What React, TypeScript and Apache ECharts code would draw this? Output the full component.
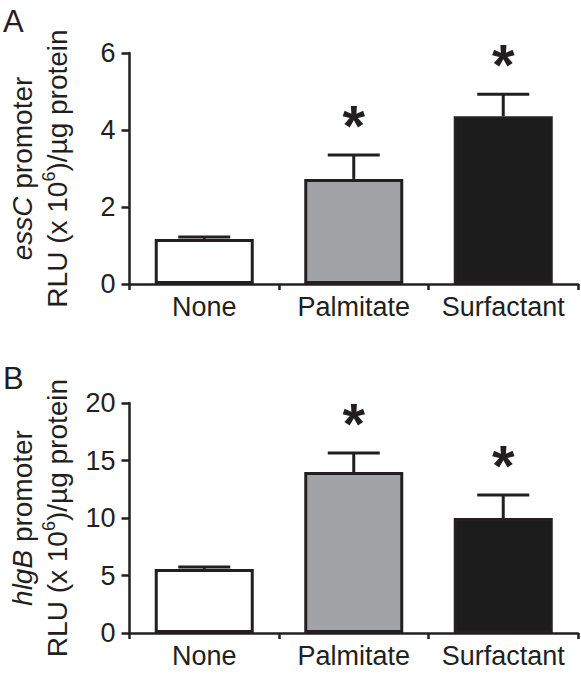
import React, { useEffect, useRef } from "react";
import * as echarts from "echarts";

const categories = ["None", "Palmitate", "Surfactant"];
const essCMean = [1.17, 2.73, 4.36];
const essCErr = [0.05, 0.62, 0.57];
const hlgBMean = [5.57, 14.0, 10.0];
const hlgBErr = [0.17, 1.65, 2.0];
const significant = [0, 1, 1];
const barColors = ["#ffffff", "#a2a3a7", "#1c1c1c"];
const essCTicks = { min: 0, max: 6, interval: 2 };
const hlgBTicks = { min: 0, max: 20, interval: 5 };

const INK = "#231f20";
const FONT = "Liberation Sans";

export default function App() {
  const ref = useRef<HTMLDivElement>(null);
  useEffect(() => {
    document.body.style.margin = "0";
    const chart = echarts.init(ref.current!, undefined, { renderer: "svg" });

    const grids = [
      { left: 127, top: 53, right: 3, height: 231 },
      { left: 128, top: 403, right: 3, height: 230 },
    ];

    const xAxis = grids.map((_, i) => ({
      type: "category",
      gridIndex: i,
      data: categories,
      axisLine: { lineStyle: { color: INK, width: 2.5 } },
      axisTick: { show: true, length: 6, alignWithLabel: false, lineStyle: { color: INK, width: 2.5 } },
      axisLabel: { color: INK, fontFamily: FONT, fontSize: 27, margin: 9, interval: 0, hideOverlap: false },
    }));

    const yName = (gene: string) => ({
      name: `{it|${gene}}{n| promoter}\n{n|RLU (x 10}{sup|6}{n|)/µg protein}`,
      nameLocation: "middle",
      nameRotate: 90,
      nameGap: 55,
      nameTextStyle: {
        color: INK,
        rich: {
          it: { fontFamily: FONT, fontSize: 28, fontStyle: "italic", lineHeight: 35, color: INK },
          n: { fontFamily: FONT, fontSize: 28, lineHeight: 35, color: INK },
          sup: { fontFamily: FONT, fontSize: 18, lineHeight: 22, verticalAlign: "top", color: INK },
        },
      },
    });

    const yAxis = [essCTicks, hlgBTicks].map((t, i) => ({
      type: "value",
      gridIndex: i,
      min: t.min,
      max: t.max,
      interval: t.interval,
      splitLine: { show: false },
      axisLine: { show: true, lineStyle: { color: INK, width: 2.5 } },
      axisTick: { show: true, length: 8, lineStyle: { color: INK, width: 2.5 } },
      axisLabel: { color: INK, fontFamily: FONT, fontSize: 27, margin: 14 },
      ...yName(i === 0 ? "essC" : "hlgB"),
    }));

    const barSeries = (means: number[], i: number) => ({
      type: "bar",
      xAxisIndex: i,
      yAxisIndex: i,
      barWidth: 99,
      data: means.map((v, k) => ({
        value: v,
        itemStyle: { color: barColors[k], borderColor: INK, borderWidth: 3 },
      })),
      z: 2,
    });

    const errSeries = (means: number[], errs: number[], i: number) => ({
      type: "custom",
      xAxisIndex: i,
      yAxisIndex: i,
      z: 3,
      data: means.map((m, k) => [k, m, errs[k], significant[k]]),
      encode: { x: 0, y: 1 },
      renderItem: (params: any, api: any) => {
        const k = api.value(0);
        const m = api.value(1);
        const e = api.value(2);
        const sig = api.value(3);
        const top = api.coord([k, m]);
        const up = api.coord([k, m + e]);
        const half = 26;
        const children: any[] = [
          {
            type: "line",
            shape: { x1: top[0], y1: top[1], x2: up[0], y2: up[1] },
            style: { stroke: INK, lineWidth: 3 },
          },
          {
            type: "line",
            shape: { x1: up[0] - half, y1: up[1], x2: up[0] + half, y2: up[1] },
            style: { stroke: INK, lineWidth: 3 },
          },
        ];
        if (sig) {
          children.push({
            type: "text",
            x: up[0],
            y: up[1] - 30,
            style: {
              text: "*",
              font: `bold 58px "${FONT}"`,
              fill: INK,
              align: "center",
              verticalAlign: "middle",
            },
          });
        }
        return { type: "group", children };
      },
    });

    chart.setOption({
      animation: false,
      grid: grids,
      xAxis,
      yAxis,
      graphic: [
        { type: "text", left: 3, top: 6, style: { text: "A", font: `31px "${FONT}"`, fill: INK } },
        { type: "text", left: 3, top: 363, style: { text: "B", font: `31px "${FONT}"`, fill: INK } },
      ],
      series: [
        barSeries(essCMean, 0),
        errSeries(essCMean, essCErr, 0),
        barSeries(hlgBMean, 1),
        errSeries(hlgBMean, hlgBErr, 1),
      ],
    });
    return () => chart.dispose();
  }, []);
  return <div ref={ref} style={{ position: "absolute", left: 0, top: 0, width: 581, height: 678, background: "#fff" }} />;
}
